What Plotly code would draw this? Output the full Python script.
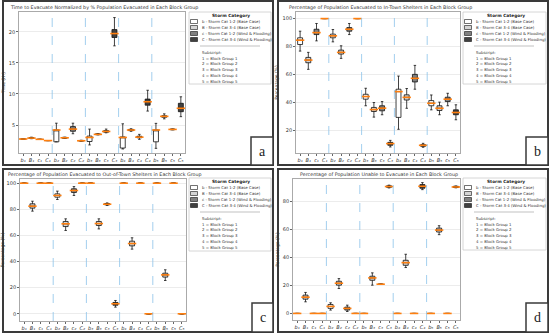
import plotly.graph_objects as go

W, H = 550, 334

# ---------------- data ----------------
letters = ["b", "B", "c", "C"]
groups = [1, 2, 3, 4, 5]
sub_digits = {1: "₁", 2: "₂", 3: "₃", 4: "₄", 5: "₅"}
tick_labels = [f"{l}{sub_digits[g]}" for g in groups for l in letters]

titles = [
    "Time to Evacuate Normalized by % Population Evacuated in Each Block Group",
    "Percentage of Population Evacuated to In-Town Shelters in Each Block Group",
    "Percentage of Population Evacuated to Out-of-Town Shelters in Each Block Group",
    "Percentage of Population Unable to Evacuate in Each Block Group",
]
ytitles = ["Time (Hr)", "Percentage (%)", "Percentage (%)", "Percentage (%)"]
panel_letters = ["a", "b", "c", "d"]

a_med = [2.75, 2.9, 2.7, 2.5, 4.2, 2.95, 4.35, 2.47, 3.0, 3.5, 3.97, 19.73, 3.0, 4.2, 3.05, 8.75, 4.2, 6.4, 4.3, 7.7]
a_q1 = [2.75, 2.85, 2.7, 2.5, 2.3, 2.88, 4.0, 2.42, 2.35, 3.45, 3.85, 19.1, 1.3, 4.1, 2.95, 8.2, 2.3, 6.25, 4.25, 7.15]
a_q3 = [2.75, 2.97, 2.7, 2.5, 4.22, 3.02, 4.75, 2.52, 3.22, 3.58, 4.1, 20.37, 3.1, 4.3, 3.2, 9.18, 4.22, 6.5, 4.35, 8.5]
a_lo = [2.75, 2.8, 2.7, 2.5, 2.3, 2.85, 3.6, 2.4, 1.8, 3.42, 3.75, 17.75, 1.15, 4.0, 2.7, 7.25, 1.25, 6.0, 4.22, 6.35]
a_hi = [2.75, 3.05, 2.7, 2.5, 5.3, 3.05, 5.3, 2.55, 4.35, 3.62, 4.35, 22.3, 5.2, 4.4, 3.5, 10.6, 5.27, 6.8, 4.38, 9.55]

b_med = [84.6, 70.4, 90, 100, 87.7, 75.9, 92.4, 100, 44.4, 35.1, 36.1, 10.8, 47.9, 43.8, 57.4, 9.6, 39.6, 36, 42.5, 33]
b_q1 = [81.5, 68.5, 88.6, 100, 86.3, 74.7, 91, 100, 42.5, 33.7, 34.2, 9.6, 29.5, 41.9, 54.8, 8.9, 37.8, 34.4, 40.8, 31.4]
b_q3 = [86.3, 72.3, 92.4, 100, 88.9, 77.5, 93.6, 100, 46, 36.6, 37.8, 11.7, 49.6, 45.6, 60.2, 10, 41.5, 37.8, 43.9, 34.9]
b_lo = [76.8, 63.8, 84.1, 100, 83.4, 71.6, 88.6, 100, 37.8, 29.7, 31.4, 8.4, 21, 36, 49.6, 8.2, 34.9, 31.4, 37.8, 27.8]
b_hi = [91, 75.9, 96.5, 100, 92.2, 80.6, 96.5, 100, 50.3, 40.1, 40.8, 13.1, 59, 50.1, 66.6, 11, 45.5, 40.4, 46.7, 38.5]

c_med = [100, 82.4, 100, 100, 90.6, 68.9, 94.4, 100, 100, 69.1, 83.9, 7.7, 100, 53.8, 100, 0, 100, 29.8, 100, 0]
c_q1 = [100, 80.9, 100, 100, 89.3, 66.8, 92.9, 100, 100, 67.6, 83.4, 6.6, 100, 52, 100, 0, 100, 28.1, 100, 0]
c_q3 = [100, 84.2, 100, 100, 91.8, 70.7, 95.7, 100, 100, 70.7, 84.4, 8.7, 100, 55.6, 100, 0, 100, 31.1, 100, 0]
c_lo = [100, 78.6, 100, 100, 87.5, 63.8, 90.6, 100, 100, 65, 83, 5.1, 100, 49.5, 100, 0, 100, 25.5, 100, 0]
c_hi = [100, 86.2, 100, 100, 93.9, 72.7, 97.4, 100, 100, 72.7, 84.9, 10.2, 100, 58.2, 100, 0, 100, 33.7, 100, 0]

d_med = [0, 11.6, 0, 0, 5, 21.6, 3.6, 0, 0, 25.4, 20.9, 90.7, 0, 36.3, 0, 90.9, 0, 59.6, 0, 90.4]
d_q1 = [0, 10.2, 0, 0, 3.6, 20.2, 2.4, 0, 0, 23.7, 20.9, 90.2, 0, 34.4, 0, 89.5, 0, 58.2, 0, 90]
d_q3 = [0, 13.1, 0, 0, 6.4, 23, 4.5, 0, 0, 26.6, 20.9, 91.2, 0, 38, 0, 92.1, 0, 61, 0, 90.9]
d_lo = [0, 8.3, 0, 0, 2.4, 17.8, 1.4, 0, 0, 20.2, 20.9, 89.7, 0, 32.8, 0, 88.5, 0, 56.3, 0, 89.8]
d_hi = [0, 15, 0, 0, 7.6, 24.9, 5.9, 0, 0, 29, 20.9, 91.7, 0, 42.3, 0, 93.5, 0, 62.7, 0, 91.1]

y_ticks = [[5, 10, 15, 20], [20, 40, 60, 80, 100], [0, 20, 40, 60, 80, 100], [0, 20, 40, 60, 80]]
y_ranges = [[0.5, 23.2], [4.1, 104.7], [-5.5, 103.2], [-4.7, 96.1]]

legend_labels = [
    "b - Storm Cat 1-2 (Base Case)",
    "B - Storm Cat 3-4 (Base Case)",
    "c - Storm Cat 1-2 (Wind & Flooding)",
    "C - Storm Cat 3-4 (Wind & Flooding)",
]
subscript_labels = [f"{g} = Block Group {g}" for g in groups]

panels_data = [
    (a_q1, a_med, a_q3, a_lo, a_hi),
    (b_q1, b_med, b_q3, b_lo, b_hi),
    (c_q1, c_med, c_q3, c_lo, c_hi),
    (d_q1, d_med, d_q3, d_lo, d_hi),
]

# ---------------- styling / layout (pixels) ----------------
fills = ["#ffffff", "#d4d4d4", "#808080", "#404040"]
FONT = "DejaVu Sans"
# plot areas: (left, top, right, bottom)
plot_px = [(19, 12, 185, 153), (296, 12, 460, 153), (20, 179, 186, 321), (293, 179, 460, 320)]
border_px = [(3, 1, 273, 165), (278, 1, 548, 165), (3, 169, 273, 332), (278, 169, 548, 332)]
labelbox_px = [(251, 137, 273, 165), (526, 137, 548, 165), (252, 303, 273, 332), (526, 303, 548, 332)]
legend_px = [(189, 12, 271, 84), (463, 12, 546, 84), (189, 178, 271, 251), (463, 178, 546, 250)]


def X(p):
    return p / W


def Y(p):
    return 1 - p / H


fig = go.Figure()
layout = dict(
    width=W, height=H, margin=dict(l=0, r=0, t=0, b=0),
    paper_bgcolor="white", plot_bgcolor="white", showlegend=False,
    boxmode="overlay", font=dict(family=FONT, size=5, color="#333"),
)
shapes = []
annotations = []

positions = list(range(20))
for p in range(4):
    q1, med, q3, lo, hi = panels_data[p]
    n = p + 1
    xa = "x" if n == 1 else f"x{n}"
    ya = "y" if n == 1 else f"y{n}"
    L, T, R, B = plot_px[p]
    layout["xaxis" if n == 1 else f"xaxis{n}"] = dict(
        domain=[X(L), X(R)], anchor=ya, range=[-0.5, 19.5],
        tickmode="array", tickvals=positions, ticktext=tick_labels,
        tickfont=dict(size=5, color="#333", style="italic"), showgrid=False, zeroline=False,
        showline=True, linecolor="#aaaaaa", linewidth=0.8, mirror=True,
        ticks="outside", ticklen=2, tickcolor="#666", tickwidth=0.6,
    )
    layout["yaxis" if n == 1 else f"yaxis{n}"] = dict(
        domain=[Y(B), Y(T)], anchor=xa, range=y_ranges[p],
        tickmode="array", tickvals=y_ticks[p], tickfont=dict(size=5, color="#333"),
        showgrid=True, gridcolor="#ececec", gridwidth=0.6, zeroline=False,
        showline=True, linecolor="#aaaaaa", linewidth=0.8, mirror=True,
        ticks="outside", ticklen=2, tickcolor="#666", tickwidth=0.6,
        title=dict(text=ytitles[p], font=dict(size=4.5, color="#333"), standoff=3),
    )
    for k in range(4):
        idx = [g * 4 + k for g in range(5)]
        fig.add_trace(go.Box(
            x=[positions[i] for i in idx],
            q1=[q1[i] for i in idx], median=[med[i] for i in idx], q3=[q3[i] for i in idx],
            lowerfence=[lo[i] for i in idx], upperfence=[hi[i] for i in idx],
            fillcolor=fills[k], line=dict(color="#111", width=0.8),
            width=0.6, whiskerwidth=0.5, boxpoints=False,
            xaxis=xa, yaxis=ya, hoverinfo="skip",
        ))
    fig.add_trace(go.Scatter(
        x=positions, y=med, mode="markers", xaxis=xa, yaxis=ya,
        marker=dict(symbol="line-ew", size=6, line=dict(color="#ff7f0e", width=1.6)),
        hoverinfo="skip",
    ))
    # block group dividers
    for g in range(1, 5):
        shapes.append(dict(type="line", xref=xa, yref=f"{ya} domain", x0=g * 4 - 0.5, x1=g * 4 - 0.5,
                           y0=0, y1=1, line=dict(color="#8cc3ea", width=0.8, dash="dash")))
    # title
    annotations.append(dict(text=titles[p], xref="paper", yref="paper", x=X((L + R) / 2 + 2),
                            y=Y(T - 5), xanchor="center", yanchor="middle", showarrow=False,
                            font=dict(size=4.8, color="#333")))
    # panel border
    bx0, by0, bx1, by1 = border_px[p]
    shapes.append(dict(type="rect", xref="paper", yref="paper", x0=X(bx0), x1=X(bx1), y0=Y(by1), y1=Y(by0),
                       line=dict(color="#3a3a3a", width=2)))
    # panel letter box
    lx0, ly0, lx1, ly1 = labelbox_px[p]
    shapes.append(dict(type="rect", xref="paper", yref="paper", x0=X(lx0), x1=X(lx1), y0=Y(ly1), y1=Y(ly0),
                       line=dict(color="#3a3a3a", width=1.5), fillcolor="white"))
    annotations.append(dict(text=panel_letters[p], xref="paper", yref="paper", x=X((lx0 + lx1) / 2),
                            y=Y((ly0 + ly1) / 2), xanchor="center", yanchor="middle", showarrow=False,
                            font=dict(family="Liberation Serif", size=14, color="#222")))
    # legend box
    gx0, gy0, gx1, gy1 = legend_px[p]
    shapes.append(dict(type="rect", xref="paper", yref="paper", x0=X(gx0), x1=X(gx1), y0=Y(gy1), y1=Y(gy0),
                       line=dict(color="#cccccc", width=0.8), fillcolor="white"))
    annotations.append(dict(text="<b>Storm Category</b>", xref="paper", yref="paper", x=X((gx0 + gx1) / 2 + 1),
                            y=Y(gy0 + 3.5), xanchor="center", yanchor="middle", showarrow=False,
                            font=dict(size=4.3, color="#222")))
    for k in range(4):
        yy = gy0 + 9.5 + k * 6
        shapes.append(dict(type="rect", xref="paper", yref="paper", x0=X(gx0 + 1.5), x1=X(gx0 + 8.5),
                           y0=Y(yy + 2), y1=Y(yy - 2), line=dict(color="#111", width=0.6), fillcolor=fills[k]))
        annotations.append(dict(text=legend_labels[k], xref="paper", yref="paper", x=X(gx0 + 11),
                                y=Y(yy), xanchor="left", yanchor="middle", showarrow=False,
                                font=dict(size=3.9, color="#333")))
    shapes.append(dict(type="line", xref="paper", yref="paper", x0=X(gx0 + 11), x1=X(gx0 + 71),
                       y0=Y(gy0 + 34), y1=Y(gy0 + 34), line=dict(color="#999", width=0.6)))
    annotations.append(dict(text="Subscript:", xref="paper", yref="paper", x=X(gx0 + 11),
                            y=Y(gy0 + 40), xanchor="left", yanchor="middle", showarrow=False,
                            font=dict(size=3.9, color="#333")))
    for g in range(5):
        annotations.append(dict(text=subscript_labels[g], xref="paper", yref="paper", x=X(gx0 + 11),
                                y=Y(gy0 + 46 + g * 5.9), xanchor="left", yanchor="middle", showarrow=False,
                                font=dict(size=3.9, color="#333")))

layout["shapes"] = shapes
layout["annotations"] = annotations
fig.update_layout(**layout)
fig.write_html(
    "out.html",
    config={"displayModeBar": False},
    post_script="document.body.style.margin='0';document.body.style.overflow='hidden';",
)
